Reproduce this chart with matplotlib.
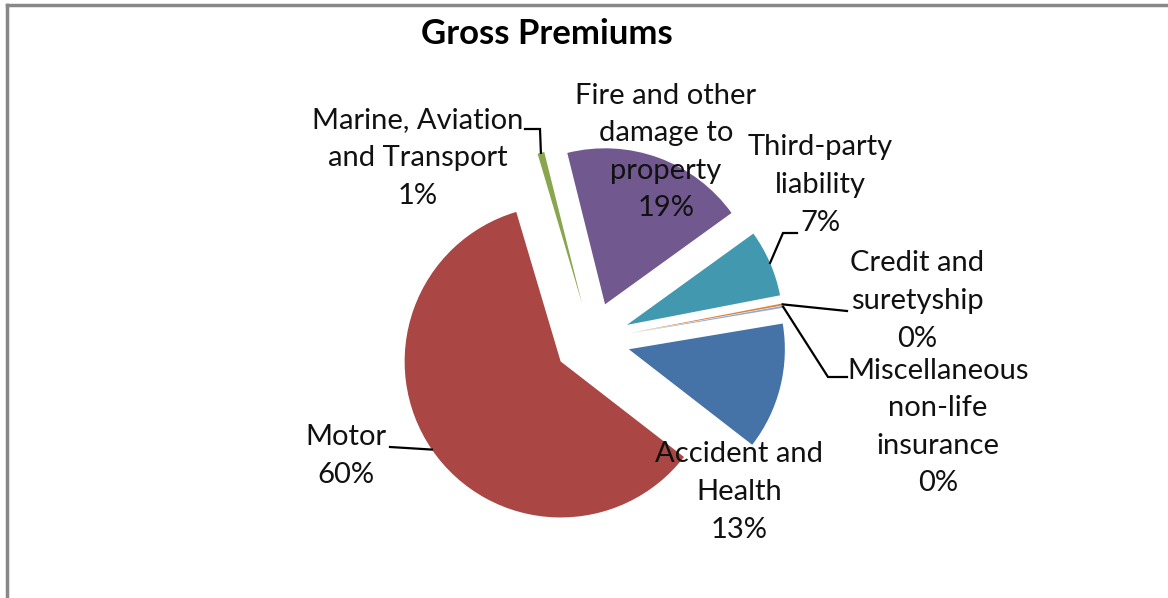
import matplotlib
matplotlib.use('Agg')
import matplotlib.pyplot as plt
import numpy as np

# gross premiums by line of business (share, %)
categories = ['Accident and\nHealth', 'Motor', 'Marine, Aviation\nand Transport',
              'Fire and other\ndamage to\nproperty', 'Third-party\nliability',
              'Credit and\nsuretyship', 'Miscellaneous\nnon-life\ninsurance']
values = [13.1, 59.8, 0.7, 18.9, 6.9, 0.2, 0.2]
pct_labels = ['13%', '60%', '1%', '19%', '7%', '0%', '0%']
colors = ['#4572A7', '#AA4643', '#89A54E', '#71588F', '#4198AF', '#DB843D', '#93A9CF']

W, H = 1168, 598
fig = plt.figure(figsize=(W / 100, H / 100), dpi=100)
ax = fig.add_axes([0, 0, 1, 1])

# work in pixel-like coords, y up
cx, cy = 592, H - 340
R = 156
explode = [38] * len(values)

wedges, _ = ax.pie(values, colors=colors, startangle=9.5, counterclock=False,
                   radius=R, center=(cx, cy), explode=explode,
                   wedgeprops=dict(linewidth=0))
ax.set_xlim(0, W)
ax.set_ylim(0, H)
ax.set_aspect('equal')
ax.axis('off')

font = 'Lato'
fs = 21

def img(x, y):
    return x, H - y

def arc_point(w, frac=0.5):
    a = np.deg2rad(w.theta1 + frac * (w.theta2 - w.theta1))
    return w.center[0] + w.r * np.cos(a), w.center[1] + w.r * np.sin(a)

# label positions (image coords, center of text block)
label_pos = [(739, 492), (346, 456), (418, 158), (666, 152), (820, 185), (917, 301), (938, 427)]
for name, pct, (x, y) in zip(categories, pct_labels, label_pos):
    ax.text(*img(x, y), name + '\n' + pct, ha='center', va='center',
            fontsize=fs, family=font, linespacing=1.55, color='#111111')

# leader lines
def leader(pts, w, frac=0.5):
    xs = [p[0] for p in pts]
    ys = [H - p[1] for p in pts]
    ax_, ay_ = arc_point(w, frac)
    xs.append(ax_)
    ys.append(ay_)
    ax.plot(xs, ys, color='black', lw=1.6, solid_joinstyle='miter')

leader([(525, 129), (540, 129)], wedges[2])
leader([(797, 233), (783, 233)], wedges[4])
leader([(847, 311)], wedges[5])
leader([(847, 377), (828, 377)], wedges[6])
leader([(390, 447)], wedges[1])

ax.text(*img(547, 34), 'Gross Premiums', ha='center', va='center',
        fontsize=25, family=font, fontweight='bold')

# chart border
fig.add_artist(plt.Line2D([7 / W, 7 / W], [0, 1 - 5 / H], color='#888888', lw=2.5))
fig.add_artist(plt.Line2D([7 / W, 1], [1 - 5 / H, 1 - 5 / H], color='#888888', lw=2.5))

fig.savefig('out.png', dpi=100)
